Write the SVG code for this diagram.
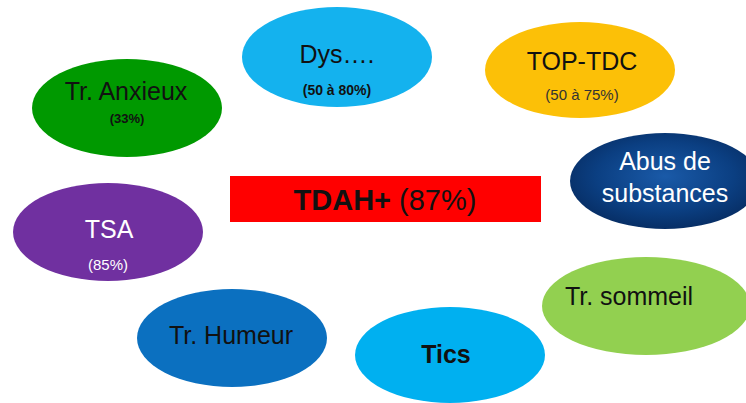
<svg xmlns="http://www.w3.org/2000/svg" width="746" height="403" viewBox="0 0 746 403">
<defs>
<radialGradient id="navy" cx="0.5" cy="0.45" r="0.6">
<stop offset="0" stop-color="#1a5aa8"/>
<stop offset="0.6" stop-color="#0b3f82"/>
<stop offset="1" stop-color="#062a5e"/>
</radialGradient>
<style>
text{font-family:"Liberation Sans",Arial,sans-serif;text-anchor:middle}
.big{font-size:25px}
.small{font-size:15px}
.dark{fill:#111}
.white{fill:#fff}
</style>
</defs>
<rect width="746" height="403" fill="#fff"/>
<g id="anxieux">
<ellipse cx="127" cy="108" rx="95" ry="49" fill="#009900"/>
<text x="126" y="100" class="big dark">Tr. Anxieux</text>
<text x="127" y="123" class="dark" style="font-size:13px;font-weight:bold">(33%)</text>
</g>
<g id="dys">
<ellipse cx="337" cy="57" rx="95" ry="50" fill="#14b2ee"/>
<text x="337" y="63" class="big dark">Dys….</text>
<text x="337" y="95" class="dark" style="font-size:14px;font-weight:bold">(50 à 80%)</text>
</g>
<g id="toptdc">
<ellipse cx="580" cy="70" rx="95" ry="48" fill="#fcc007"/>
<text x="582" y="70" class="big dark">TOP-TDC</text>
<text x="582" y="100" class="small" fill="#333">(50 à 75%)</text>
</g>
<g id="abus">
<ellipse cx="665" cy="181" rx="95" ry="48" fill="url(#navy)"/>
<text x="665" y="170" class="big white">Abus de</text>
<text x="665" y="202" class="big white">substances</text>
</g>
<g id="tdah">
<rect x="230" y="176" width="311" height="46" fill="#ff0000"/>
<text x="385" y="210" class="dark" style="font-size:29px"><tspan font-weight="bold">TDAH+</tspan> (87%)</text>
</g>
<g id="tsa">
<ellipse cx="108" cy="232" rx="95" ry="49" fill="#7030a0"/>
<text x="109" y="238" class="big white">TSA</text>
<text x="108" y="270" class="small white">(85%)</text>
</g>
<g id="humeur">
<ellipse cx="232" cy="338" rx="95" ry="49" fill="#0b70c0"/>
<text x="231" y="344" class="big dark">Tr. Humeur</text>
</g>
<g id="tics">
<ellipse cx="450" cy="355" rx="95" ry="48" fill="#00b0f0"/>
<text x="446" y="363" class="big dark" font-weight="bold">Tics</text>
</g>
<g id="sommeil">
<ellipse cx="646" cy="306" rx="104" ry="49" fill="#92d050"/>
<text x="629" y="305" class="big dark">Tr. sommeil</text>
</g>
<g id="connectors"/>
</svg>
